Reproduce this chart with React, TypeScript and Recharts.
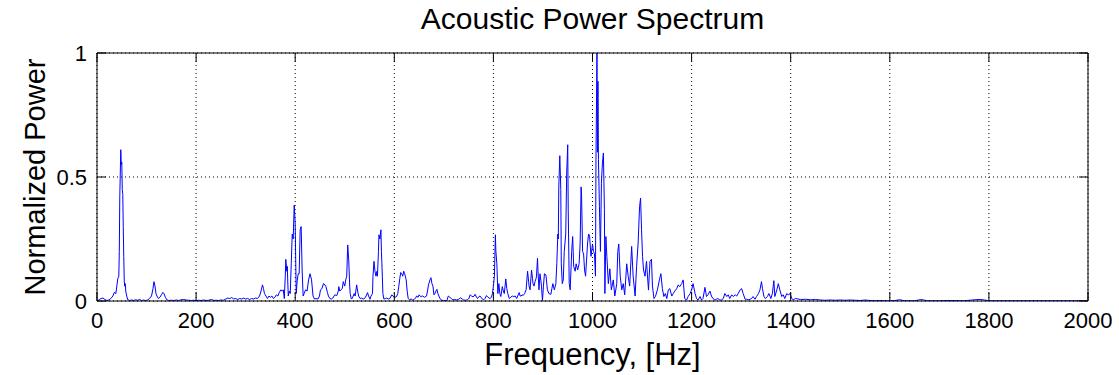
import React from 'react';
import { LineChart, Line, XAxis, YAxis, CartesianGrid, Label } from 'recharts';

type Pt = [number, number];

// [frequency Hz, normalized power]
const band0to200: Pt[] = [
  [0, 0.002], [4, 0.004], [8, 0.01], [12, 0.012], [16, 0.006], [20, 0.002], [24, 0.004], [28, 0.01],
  [32, 0.02], [35, 0.035], [38, 0.03], [40, 0.06], [42, 0.09], [44, 0.1], [45, 0.2], [46, 0.42],
  [48, 0.61], [49, 0.55], [50, 0.56], [51, 0.45], [52, 0.43], [53, 0.3], [54, 0.18], [55, 0.08],
  [56, 0.06], [57, 0.07], [58, 0.04], [60, 0.02], [62, 0.005], [66, 0.002], [70, 0.004], [74, 0.002],
  [78, 0.005], [82, 0.003], [86, 0.006], [90, 0.002], [94, 0.004], [98, 0.002], [102, 0.004], [106, 0.01],
  [110, 0.02], [113, 0.05], [115, 0.078], [117, 0.06], [119, 0.03], [121, 0.02], [124, 0.01], [127, 0.015],
  [130, 0.025], [133, 0.035], [135, 0.03], [138, 0.015], [141, 0.005], [145, 0.002], [150, 0.003], [155, 0.002],
  [160, 0.004], [165, 0.002], [170, 0.005], [175, 0.006], [180, 0.004], [185, 0.003], [190, 0.002], [195, 0.003],
];

const band200to650: Pt[] = [
  [200, 0.002], [205, 0.003], [210, 0.002], [215, 0.004], [220, 0.002], [225, 0.003], [231, 0.006], [236, 0.002],
  [240, 0.003], [245, 0.002], [250, 0.004], [255, 0.003], [260, 0.008], [264, 0.012], [268, 0.01], [272, 0.014],
  [276, 0.008], [280, 0.01], [284, 0.006], [288, 0.01], [292, 0.008], [296, 0.012], [300, 0.008], [304, 0.01],
  [308, 0.006], [312, 0.01], [316, 0.008], [320, 0.012], [324, 0.01], [328, 0.02], [331, 0.04], [334, 0.065],
  [336, 0.05], [338, 0.03], [341, 0.02], [344, 0.01], [347, 0.02], [350, 0.015], [353, 0.02], [356, 0.01],
  [359, 0.015], [362, 0.025], [365, 0.02], [368, 0.035], [371, 0.045], [374, 0.04], [376, 0.045], [378, 0.01],
  [380, 0.1], [381, 0.168], [383, 0.12], [384, 0.14], [386, 0.02], [388, 0.04], [390, 0.03], [392, 0.15],
  [394, 0.27], [396, 0.25], [398, 0.387], [399, 0.35], [400, 0.31], [402, 0.03], [404, 0.08], [406, 0.11],
  [408, 0.11], [410, 0.287], [412, 0.3], [414, 0.125], [416, 0.02], [418, 0.03], [421, 0.045], [424, 0.04],
  [427, 0.085], [430, 0.11], [433, 0.085], [436, 0.02], [439, 0.008], [442, 0.01], [446, 0.008], [449, 0.02],
  [451, 0.045], [454, 0.05], [457, 0.07], [460, 0.065], [462, 0.058], [465, 0.035], [467, 0.02], [470, 0.01],
  [473, 0.008], [476, 0.012], [480, 0.025], [484, 0.022], [487, 0.04], [488, 0.058], [490, 0.04], [492, 0.045],
  [495, 0.05], [497, 0.078], [500, 0.06], [502, 0.085], [504, 0.1], [506, 0.226], [508, 0.166], [510, 0.06],
  [511, 0.03], [513, 0.01], [515, 0.01], [517, 0.02], [519, 0.03], [521, 0.02], [524, 0.065], [526, 0.04],
  [528, 0.02], [531, 0.01], [534, 0.012], [537, 0.008], [540, 0.01], [543, 0.02], [546, 0.034], [548, 0.02],
  [551, 0.007], [553, 0.02], [556, 0.03], [557, 0.1], [559, 0.16], [561, 0.12], [563, 0.1], [565, 0.12],
  [566, 0.1], [568, 0.2], [569, 0.267], [571, 0.25], [573, 0.287], [574, 0.2], [575, 0.15], [577, 0.03],
  [579, 0.008], [582, 0.01], [585, 0.012], [588, 0.008], [591, 0.01], [595, 0.025], [598, 0.018], [600, 0.02],
  [603, 0.015], [605, 0.02], [607, 0.03], [609, 0.058], [611, 0.09], [613, 0.115], [615, 0.11], [617, 0.1],
  [619, 0.12], [621, 0.11], [624, 0.085], [626, 0.04], [628, 0.01], [631, 0.005], [634, 0.008], [637, 0.004],
  [640, 0.006], [643, 0.012], [645, 0.02], [648, 0.015],
];

const band650to928: Pt[] = [
  [650, 0.025], [653, 0.018], [657, 0.02], [661, 0.015], [665, 0.02], [667, 0.04], [669, 0.065], [672, 0.085],
  [674, 0.094], [676, 0.07], [678, 0.06], [680, 0.025], [682, 0.03], [684, 0.04], [686, 0.047], [688, 0.03],
  [690, 0.02], [692, 0.01], [695, 0.005], [699, 0.001], [703, 0.002], [706, 0.001], [709, 0.02], [712, 0.015],
  [715, 0.01], [718, 0.005], [722, 0.006], [726, 0.004], [730, 0.007], [734, 0.013], [737, 0.008], [740, 0.004],
  [744, 0.003], [748, 0.005], [751, 0.012], [753, 0.025], [756, 0.02], [759, 0.017], [761, 0.02], [763, 0.027],
  [766, 0.015], [768, 0.01], [771, 0.018], [773, 0.02], [776, 0.012], [780, 0.004], [783, 0.01], [786, 0.022],
  [789, 0.015], [793, 0.01], [796, 0.015], [798, 0.03], [800, 0.06], [802, 0.1], [804, 0.267], [805, 0.2],
  [807, 0.15], [809, 0.03], [811, 0.07], [813, 0.03], [815, 0.018], [818, 0.058], [820, 0.04], [822, 0.03],
  [825, 0.089], [827, 0.05], [829, 0.03], [832, 0.01], [835, 0.015], [838, 0.02], [841, 0.018], [844, 0.02],
  [847, 0.01], [849, 0.02], [852, 0.034], [854, 0.02], [856, 0.02], [858, 0.025], [860, 0.022], [863, 0.03],
  [866, 0.045], [869, 0.12], [871, 0.08], [872, 0.06], [874, 0.045], [877, 0.125], [879, 0.09], [880, 0.07],
  [882, 0.06], [884, 0.078], [886, 0.09], [887, 0.1], [889, 0.172], [890, 0.12], [892, 0.045], [894, 0.11],
  [896, 0.08], [897, 0.06], [899, 0.001], [901, 0.06], [903, 0.11], [906, 0.105], [909, 0.045], [912, 0.03],
  [916, 0.027], [918, 0.05], [920, 0.07], [923, 0.045], [926, 0.07], [928, 0.15],
];

const band930to1125: Pt[] = [
  [930, 0.27], [931, 0.25], [932, 0.46], [934, 0.586], [936, 0.45], [937, 0.15], [939, 0.07], [941, 0.085],
  [943, 0.2], [946, 0.27], [948, 0.52], [950, 0.63], [951, 0.37], [953, 0.07], [955, 0.045], [958, 0.2],
  [960, 0.26], [962, 0.14], [965, 0.12], [967, 0.15], [970, 0.125], [973, 0.15], [975, 0.23], [977, 0.46],
  [978, 0.42], [980, 0.2], [982, 0.19], [984, 0.125], [986, 0.1], [988, 0.165], [990, 0.23], [992, 0.27],
  [994, 0.265], [997, 0.18], [1000, 0.23], [1002, 0.2], [1004, 0.19], [1006, 0.1], [1007, 0.57], [1009, 1.0],
  [1010, 0.6], [1011, 0.886], [1012, 0.57], [1014, 0.38], [1016, 0.2], [1018, 0.475], [1020, 0.556], [1022, 0.597],
  [1024, 0.37], [1025, 0.03], [1027, 0.26], [1029, 0.18], [1032, 0.07], [1035, 0.13], [1038, 0.045], [1042, 0.085],
  [1045, 0.02], [1049, 0.07], [1051, 0.2], [1053, 0.23], [1056, 0.1], [1059, 0.045], [1062, 0.07], [1065, 0.025],
  [1069, 0.15], [1072, 0.1], [1075, 0.06], [1079, 0.22], [1082, 0.1], [1086, 0.02], [1089, 0.14], [1092, 0.23],
  [1095, 0.38], [1097, 0.415], [1099, 0.287], [1101, 0.18], [1103, 0.125], [1106, 0.1], [1109, 0.16], [1111, 0.1],
  [1113, 0.044], [1116, 0.16], [1119, 0.168], [1121, 0.06], [1124, 0.01],
];

const band1127to1430: Pt[] = [
  [1127, 0.018], [1131, 0.045], [1135, 0.085], [1138, 0.11], [1141, 0.05], [1144, 0.018], [1147, 0.03], [1150, 0.01],
  [1153, 0.045], [1156, 0.05], [1160, 0.02], [1163, 0.03], [1166, 0.04], [1170, 0.05], [1173, 0.065], [1176, 0.058],
  [1180, 0.07], [1183, 0.085], [1186, 0.01], [1190, 0.004], [1193, 0.018], [1197, 0.03], [1200, 0.045], [1203, 0.07],
  [1207, 0.03], [1210, 0.01], [1213, 0.004], [1217, 0.018], [1220, 0.004], [1223, 0.01], [1227, 0.055], [1230, 0.018],
  [1233, 0.025], [1237, 0.04], [1240, 0.02], [1243, 0.01], [1247, 0.004], [1250, 0.007], [1253, 0.01], [1257, 0.004],
  [1260, 0.004], [1264, 0.01], [1267, 0.03], [1271, 0.018], [1274, 0.025], [1277, 0.01], [1281, 0.025], [1284, 0.018],
  [1288, 0.025], [1291, 0.02], [1294, 0.03], [1298, 0.045], [1301, 0.05], [1304, 0.03], [1308, 0.007], [1311, 0.007],
  [1315, 0.005], [1318, 0.007], [1321, 0.01], [1324, 0.018], [1328, 0.007], [1331, 0.018], [1335, 0.03], [1338, 0.045],
  [1341, 0.078], [1343, 0.05], [1346, 0.018], [1349, 0.01], [1353, 0.018], [1356, 0.03], [1360, 0.01], [1363, 0.03],
  [1366, 0.082], [1368, 0.018], [1372, 0.045], [1375, 0.07], [1378, 0.045], [1382, 0.018], [1385, 0.025], [1388, 0.01],
  [1392, 0.03], [1395, 0.025], [1399, 0.03], [1402, 0.01], [1405, 0.005], [1410, 0.01], [1415, 0.008], [1420, 0.006],
  [1430, 0.007],
];

const band1440to2000: Pt[] = [
  [1440, 0.005], [1450, 0.006], [1460, 0.004], [1470, 0.003], [1480, 0.004], [1490, 0.003], [1500, 0.004], [1510, 0.003],
  [1520, 0.004], [1530, 0.003], [1540, 0.002], [1550, 0.004], [1560, 0.002], [1570, 0.001], [1580, 0.002], [1590, 0.001],
  [1600, 0.001], [1610, 0.002], [1620, 0.005], [1630, 0.001], [1650, 0.001], [1664, 0.006], [1675, 0.001], [1700, 0.001],
  [1720, 0.002], [1750, 0.001], [1772, 0.005], [1780, 0.006], [1788, 0.005], [1800, 0.001], [1850, 0.001], [1900, 0.001],
  [1950, 0.001], [2000, 0.001],
];

const xTicks = [0, 200, 400, 600, 800, 1000, 1200, 1400, 1600, 1800, 2000];
const yTicks = [0, 0.5, 1];
const titleText = 'Acoustic Power Spectrum';
const xLabelText = 'Frequency, [Hz]';
const yLabelText = 'Normalized Power';

const data = [
  ...band0to200,
  ...band200to650,
  ...band650to928,
  ...band930to1125,
  ...band1127to1430,
  ...band1440to2000,
].map(([freq, power]) => ({ freq, power }));

const FONT = '"Liberation Sans", Arial, Helvetica, sans-serif';
const TICK_FONT = 22;
const TICK_LEN = 9;
const X_TICK_MARGIN = 11;
const Y_TICK_MARGIN = 10;

const BottomTick = (props: any) => {
  const { x, y, payload } = props;
  const axisY = y - X_TICK_MARGIN;
  return (
    <g>
      <line x1={x} x2={x} y1={axisY} y2={axisY - TICK_LEN} stroke="#000" strokeWidth={1} />
      <text x={x} y={y} dy="0.71em" textAnchor="middle" fontSize={TICK_FONT} fontFamily={FONT} fill="#000">
        {payload.value}
      </text>
    </g>
  );
};

const TopTick = (props: any) => {
  const { x, y } = props;
  return <line x1={x} x2={x} y1={y} y2={y + TICK_LEN} stroke="#000" strokeWidth={1} />;
};

const LeftTick = (props: any) => {
  const { x, y, payload } = props;
  const axisX = x + Y_TICK_MARGIN;
  return (
    <g>
      <line x1={axisX} x2={axisX + TICK_LEN} y1={y} y2={y} stroke="#000" strokeWidth={1} />
      <text x={x} y={y} dy="0.36em" textAnchor="end" fontSize={TICK_FONT} fontFamily={FONT} fill="#000">
        {payload.value}
      </text>
    </g>
  );
};

const RightTick = (props: any) => {
  const { x, y } = props;
  return <line x1={x} x2={x - TICK_LEN} y1={y} y2={y} stroke="#000" strokeWidth={1} />;
};

const YLabel = (props: any) => {
  const vb = props.viewBox || { x: 37, y: 53, width: 60, height: 248 };
  const bx = vb.x + 8;
  const cy = vb.y + vb.height / 2;
  return (
    <text
      x={bx}
      y={cy}
      transform={`rotate(-90 ${bx} ${cy})`}
      textAnchor="middle"
      fontSize={29}
      fontFamily={FONT}
      fill="#000"
    >
      {yLabelText}
    </text>
  );
};

export default function App() {
  return (
    <div style={{ position: 'absolute', left: 0, top: 0, width: 1119, height: 375, background: '#fff' }}>
      <div
        style={{
          position: 'absolute',
          left: 97,
          width: 991,
          top: 2,
          textAlign: 'center',
          fontFamily: FONT,
          fontSize: 30,
          lineHeight: '34px',
          color: '#000',
        }}
      >
        {titleText}
      </div>
      <LineChart width={1119} height={375} data={data} margin={{ top: 52, right: 30, bottom: 44, left: 37 }}>
        <CartesianGrid
          xAxisId="x"
          yAxisId="y"
          stroke="#000"
          strokeDasharray="1 3"
          strokeWidth={1}
          horizontal
          vertical
        />
        <XAxis
          xAxisId="x"
          dataKey="freq"
          type="number"
          domain={[0, 2000]}
          ticks={xTicks}
          allowDataOverflow
          height={30}
          tickSize={0}
          tickMargin={X_TICK_MARGIN}
          tickLine={false}
          axisLine={{ stroke: '#000', strokeWidth: 1 }}
          tick={<BottomTick />}
          interval={0}
        >
          <Label
            value={xLabelText}
            position="bottom"
            offset={12}
            style={{ fontSize: 31, fontFamily: FONT, fill: '#000' }}
          />
        </XAxis>
        <XAxis
          xAxisId="top"
          orientation="top"
          dataKey="freq"
          type="number"
          domain={[0, 2000]}
          ticks={xTicks}
          allowDataOverflow
          height={1}
          tickSize={0}
          tickMargin={0}
          tickLine={false}
          axisLine={{ stroke: '#000', strokeWidth: 1 }}
          tick={<TopTick />}
          interval={0}
        />
        <YAxis
          yAxisId="y"
          type="number"
          domain={[0, 1]}
          ticks={yTicks}
          allowDataOverflow
          width={60}
          tickSize={0}
          tickMargin={Y_TICK_MARGIN}
          tickLine={false}
          axisLine={{ stroke: '#000', strokeWidth: 1 }}
          tick={<LeftTick />}
          interval={0}
        >
          <Label content={<YLabel />} position="left" />
        </YAxis>
        <YAxis
          yAxisId="right"
          orientation="right"
          type="number"
          domain={[0, 1]}
          ticks={yTicks}
          allowDataOverflow
          width={1}
          tickSize={0}
          tickMargin={0}
          tickLine={false}
          axisLine={{ stroke: '#000', strokeWidth: 1 }}
          tick={<RightTick />}
          interval={0}
        />
        <Line
          xAxisId="x"
          yAxisId="y"
          type="linear"
          dataKey="power"
          stroke="#0000ff"
          strokeWidth={1}
          dot={false}
          activeDot={false}
          isAnimationActive={false}
        />
      </LineChart>
    </div>
  );
}
